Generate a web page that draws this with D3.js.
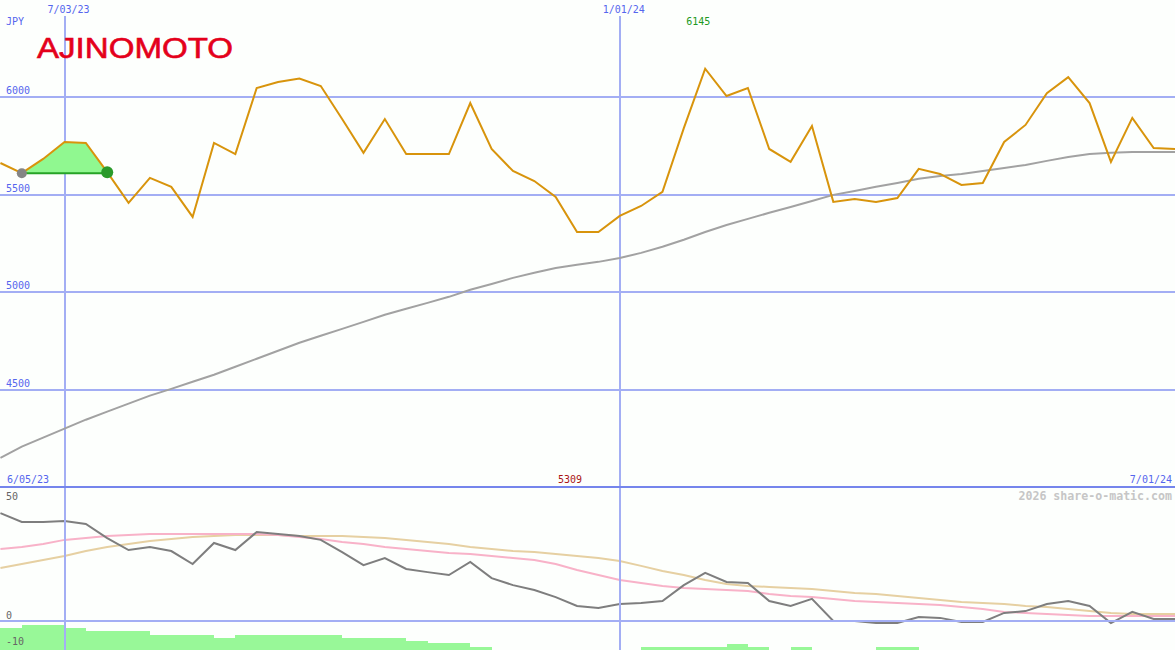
<!DOCTYPE html>
<html><head><meta charset="utf-8">
<script src="https://cdn.jsdelivr.net/npm/d3@7"></script>
<style>html,body{margin:0;padding:0;background:#fdfffd;} svg{display:block;}</style>
</head><body><svg id="c" width="1175" height="650"></svg>
<script>
// weekly dates
const dates = ["2023-06-12","2023-06-19","2023-06-26","2023-07-03","2023-07-10","2023-07-17","2023-07-24","2023-07-31",
"2023-08-07","2023-08-14","2023-08-21","2023-08-28","2023-09-04","2023-09-11","2023-09-18","2023-09-25",
"2023-10-02","2023-10-09","2023-10-16","2023-10-23","2023-10-30","2023-11-06","2023-11-13","2023-11-20","2023-11-27",
"2023-12-04","2023-12-11","2023-12-18","2023-12-25","2024-01-01","2024-01-08","2024-01-15","2024-01-22","2024-01-29",
"2024-02-05","2024-02-12","2024-02-19","2024-02-26","2024-03-04","2024-03-11","2024-03-18","2024-03-25",
"2024-04-01","2024-04-08","2024-04-15","2024-04-22","2024-04-29","2024-05-06","2024-05-13","2024-05-20","2024-05-27",
"2024-06-03","2024-06-10","2024-06-17","2024-06-24","2024-07-01"];
// weekly close (JPY)
const price = [5662,5610,5683,5770,5765,5615,5458,5586,5540,5386,
5765,5708,6046,6077,6095,6056,5887,5714,5887,5708,
5708,5708,5969,5734,5621,5570,5488,5309,5309,5391,
5442,5514,5841,6145,6005,6046,5734,5668,5852,5463,
5478,5463,5483,5632,5606,5550,5560,5770,5857,6020,
6102,5969,5668,5893,5739,5734];
// long moving average
const ma = [4153,4210,4256,4302,4348,4389,4430,4471,4506,4542,
4578,4619,4660,4701,4742,4778,4813,4849,4885,4916,
4946,4977,5013,5043,5074,5100,5125,5141,5156,5176,
5202,5233,5269,5309,5345,5376,5407,5437,5468,5499,
5519,5540,5560,5581,5596,5606,5621,5637,5652,5673,
5693,5708,5714,5719,5719,5719];
// lower panel indicators
const osc = [41.5,38.1,38.1,38.5,37.3,31.9,27.3,28.5,26.9,21.9,
30.0,27.3,34.2,33.5,32.7,31.2,26.5,21.5,24.2,20.0,
18.8,17.7,22.7,16.5,13.8,11.9,9.2,5.8,5.0,6.5,
6.9,7.7,13.8,18.5,15.0,14.6,7.7,5.8,8.5,0,
0,-0.8,-0.8,1.5,1.2,-0.4,-0.4,3.1,3.8,6.5,
7.7,5.8,-0.8,3.5,0.8,0.8];
const pinkLine = [27.7,28.5,29.6,31.2,31.9,32.7,33.1,33.5,33.5,33.5,
33.5,33.5,33.5,33.1,32.3,31.5,30.4,29.6,28.5,27.7,
26.9,26.2,25.8,25.0,24.2,23.5,21.9,19.6,17.7,15.8,
14.6,13.5,12.7,12.3,11.9,11.5,10.4,9.6,9.2,8.5,
7.7,7.3,6.9,6.5,6.2,5.4,4.6,3.5,3.1,2.7,
2.3,1.9,1.9,1.9,1.9,1.9];
const tanLine = [20.4,21.9,23.5,25.0,26.9,28.5,29.6,30.8,31.5,32.3,
32.7,33.1,33.1,33.1,32.7,32.7,32.7,32.3,31.9,31.2,
30.4,29.6,28.5,27.7,26.9,26.5,25.8,25.0,24.2,23.1,
21.2,19.2,17.7,15.8,14.2,13.5,13.1,12.7,12.3,11.5,
10.8,10.4,9.6,8.8,8.1,7.3,6.9,6.5,5.8,5.4,
4.6,3.8,3.1,2.7,2.7,2.7];
const hist = [-2.7,-1.5,-1.5,-2.7,-3.8,-3.8,-3.8,-5.4,-5.4,-5.4,
-6.5,-5.4,-5.4,-5.4,-5.4,-5.4,-6.5,-6.5,-6.5,-7.7,
-8.5,-8.5,-10,null,null,null,null,null,null,null,
-10,-10,-10,-10,-8.8,-10,null,-10,null,null,
null,-10,-10,null,null,null,null,null,null,null,
null,null,null,null,null,null];
const priceTicks = [6000,5500,5000,4500];
const oscTicks = [50,0,-10];
const markDates = ["2023-07-03","2024-01-01"];
const highlight = {from:1, to:5, base:5610};

const parse = d3.timeParse("%Y-%m-%d");
const D = dates.map(parse);
const W = 1175, H = 650;
const svg = d3.select("#c");
const font = "'DejaVu Sans Mono', monospace";

const x = d3.scaleTime().domain([parse("2023-07-03"), parse("2024-07-01")]).range([64.5, 1175]);
const y = d3.scaleLinear().domain([4500, 6000]).range([390, 97]);
const yb = d3.scaleLinear().domain([0, 50]).range([621, 491]);

svg.append("rect").attr("width", W).attr("height", H).attr("fill", "#fdfffd");

const defs = svg.append("defs");
defs.append("clipPath").attr("id","top").append("rect").attr("x",0).attr("y",0).attr("width",W).attr("height",486);
defs.append("clipPath").attr("id","bot").append("rect").attr("x",0).attr("y",488).attr("width",W).attr("height",162);

const gridC = "#a3aef4";
// histogram bars (bottom)
const gb = svg.append("g").attr("clip-path","url(#bot)");
const bars = hist.map((v,i)=>({v,i})).filter(d=>d.v!==null && d.i < D.length-1);
gb.selectAll("rect.h").data(bars).enter().append("rect")
  .attr("x", d=>Math.round(x(D[d.i])))
  .attr("width", d=>Math.round(x(D[d.i+1]))-Math.round(x(D[d.i])))
  .attr("y", d=>Math.round(yb(d.v)))
  .attr("height", d=>yb(-14)-Math.round(yb(d.v)))
  .attr("fill","#98f898").attr("shape-rendering","crispEdges");

// horizontal gridlines top
svg.selectAll("line.gt").data(priceTicks).enter().append("line")
  .attr("x1",0).attr("x2",W).attr("y1",d=>Math.round(y(d))).attr("y2",d=>Math.round(y(d)))
  .attr("stroke",gridC).attr("stroke-width",2).attr("shape-rendering","crispEdges");
// zero line bottom
svg.append("line").attr("x1",0).attr("x2",W).attr("y1",yb(0)).attr("y2",yb(0))
  .attr("stroke",gridC).attr("stroke-width",2).attr("shape-rendering","crispEdges");

// vertical markers
markDates.forEach((s,i)=>{
  const xv = Math.round(x(parse(s)));
  svg.append("line").attr("x1",xv).attr("x2",xv).attr("y1",16).attr("y2",H)
    .attr("stroke",gridC).attr("stroke-width", i===0?2:1.2).attr("shape-rendering","crispEdges");
});

// separator
svg.append("line").attr("x1",0).attr("x2",W).attr("y1",487).attr("y2",487)
  .attr("stroke","#7585ec").attr("stroke-width",2).attr("shape-rendering","crispEdges");

const gt = svg.append("g").attr("clip-path","url(#top)");
// highlight area
const hl = d3.range(highlight.from, highlight.to+1);
gt.append("path").datum(hl)
  .attr("d", d3.area().x(i=>x(D[i])).y0(y(highlight.base)).y1(i=>y(price[i])))
  .attr("fill","#90f890");
gt.append("line").attr("x1",x(D[highlight.from])).attr("x2",x(D[highlight.to]))
  .attr("y1",y(highlight.base)).attr("y2",y(highlight.base))
  .attr("stroke","#26a326").attr("stroke-width",2);

// moving average
gt.append("path").datum(ma)
  .attr("d", d3.line().x((d,i)=>x(D[i])).y(d=>y(d)))
  .attr("fill","none").attr("stroke","#a2a2a2").attr("stroke-width",2);
// price
gt.append("path").datum(price)
  .attr("d", d3.line().x((d,i)=>x(D[i])).y(d=>y(d)))
  .attr("fill","none").attr("stroke","#d8940c").attr("stroke-width",2);

// dots
gt.append("circle").attr("cx",x(D[highlight.from])).attr("cy",y(highlight.base)).attr("r",5).attr("fill","#858585");
gt.append("circle").attr("cx",x(D[highlight.to])).attr("cy",y(price[highlight.to])).attr("r",6).attr("fill","#2a9a2a");

// lower lines
const lb = d3.line().x((d,i)=>x(D[i])).y(d=>yb(d));
gb.append("path").datum(tanLine).attr("d",lb).attr("fill","none").attr("stroke","#e6d0a2").attr("stroke-width",2);
gb.append("path").datum(pinkLine).attr("d",lb).attr("fill","none").attr("stroke","#f8b2c8").attr("stroke-width",2);
gb.append("path").datum(osc).attr("d",lb).attr("fill","none").attr("stroke","#7e7e7e").attr("stroke-width",2);

// labels
const blue = "#5566ee";
function txt(t, xx, yy, opts={}) {
  return svg.append("text").text(t).attr("x",xx).attr("y",yy)
    .attr("font-family",font).attr("font-size",opts.size||10)
    .attr("font-weight",opts.weight||"normal")
    .attr("fill",opts.fill||blue).attr("text-anchor",opts.anchor||"start");
}
txt("JPY", 6, 25);
priceTicks.forEach(v=>txt(String(v), 6, Math.round(y(v))-3));
markDates.forEach(s=>{
  const dt = parse(s);
  txt(d3.timeFormat("%-m/%d/%y")(dt), x(dt)+4, 13, {anchor:"middle"});
});
// max / min labels
const iMax = d3.maxIndex(price), iMin = d3.minIndex(price);
txt(String(price[iMax]), x(D[iMax])-7, 25, {anchor:"middle", fill:"#229922"});
txt(String(price[iMin]), x(D[iMin])-7, 483, {anchor:"middle", fill:"#aa1515"});
txt("6/05/23", 7, 483);
txt(d3.timeFormat("%-m/%d/%y")(D[D.length-1]), 1172, 483, {anchor:"end"});
oscTicks.forEach(v=>{
  const yy = v===50 ? yb(v)+9 : yb(v)-2;
  txt(String(v), 6, yy, {fill:"#666666"});
});
txt("2026 share-o-matic.com", 1172, 500, {anchor:"end", size:11.6, weight:"bold", fill:"#c6c6c6"});

// logo
svg.append("text").text("AJINOMOTO").attr("x",37).attr("y",57.5)
  .attr("font-family","'Liberation Sans', Arial, sans-serif").attr("font-size",29)
  .attr("textLength",196).attr("lengthAdjust","spacingAndGlyphs")
  .attr("fill","#e4001b").attr("stroke","#e4001b").attr("stroke-width",0.6);
</script></body></html>
